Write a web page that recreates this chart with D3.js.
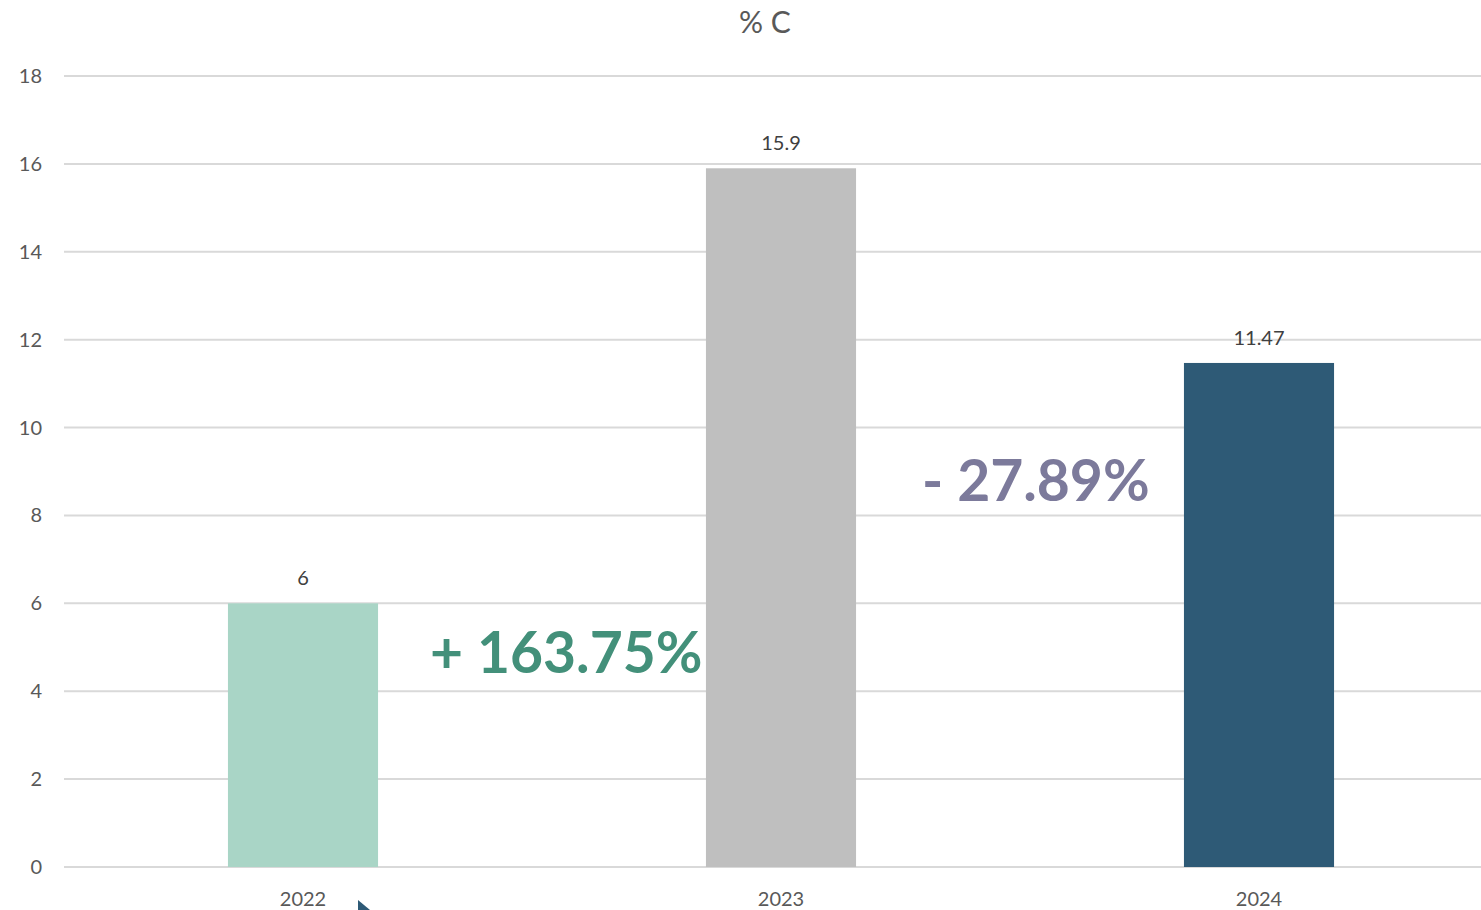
<!DOCTYPE html>
<html>
<head>
<meta charset="utf-8">
<script src="https://cdn.jsdelivr.net/npm/d3@7"></script>
<style>
  body { margin: 0; background: #fff; }
  svg { display: block; font-family: Lato, "Open Sans", sans-serif; }
</style>
</head>
<body>
<svg id="chart"></svg>
<script>
// data
var years = ["2022", "2023", "2024"];
var values = [6, 15.9, 11.47];
var barColors = ["#a9d5c6", "#bfbfbf", "#2e5a76"];
var yTicks = [0, 2, 4, 6, 8, 10, 12, 14, 16, 18];
var changeLabels = ["+ 163.75%", "- 27.89%"];
var changeColors = ["#43907a", "#7c7a9b"];

var W = 1481, H = 910;
var margin = {top: 76, right: -17, bottom: 43, left: 64};
var width = W - margin.left - margin.right,
    height = H - margin.top - margin.bottom;

var svg = d3.select("#chart").attr("width", W).attr("height", H);
var g = svg.append("g").attr("transform", "translate(" + margin.left + "," + margin.top + ")");

var x = d3.scaleBand().domain(years).range([0, width]).paddingInner(0.686).paddingOuter(0.343);
var y = d3.scaleLinear().domain([0, 18]).range([height, 0]);

// gridlines
g.selectAll(".grid").data(yTicks).enter().append("line")
  .attr("x1", 0).attr("x2", W)
  .attr("y1", function(d) { return y(d); })
  .attr("y2", function(d) { return y(d); })
  .attr("stroke", "#d9d9d9").attr("stroke-width", 2);

// y tick labels
g.selectAll(".ylab").data(yTicks).enter().append("text")
  .attr("x", -22).attr("y", function(d) { return y(d); })
  .attr("dy", "0.35em").attr("text-anchor", "end")
  .attr("fill", "#595959").style("font-size", "20px")
  .text(function(d) { return d; });

// bars
g.selectAll(".bar").data(values).enter().append("rect")
  .attr("x", function(d, i) { return x(years[i]); })
  .attr("width", x.bandwidth())
  .attr("y", function(d) { return y(d); })
  .attr("height", function(d) { return height - y(d); })
  .attr("fill", function(d, i) { return barColors[i]; });

// value labels
g.selectAll(".val").data(values).enter().append("text")
  .attr("x", function(d, i) { return x(years[i]) + x.bandwidth() / 2; })
  .attr("y", function(d) { return y(d) - 18; })
  .attr("text-anchor", "middle").attr("fill", "#404040")
  .style("font-size", "20px")
  .text(function(d) { return d; });

// x labels
g.selectAll(".xlab").data(years).enter().append("text")
  .attr("x", function(d) { return x(d) + x.bandwidth() / 2; })
  .attr("y", height + 39)
  .attr("text-anchor", "middle").attr("fill", "#595959")
  .style("font-size", "20px")
  .text(function(d) { return d; });

// title
svg.append("text").attr("x", 765).attr("y", 33)
  .attr("text-anchor", "middle").attr("fill", "#595959")
  .style("font-size", "30px").text("% C");

// change annotations, placed between bars
var changePos = [
  {x: x(years[0]) + x.bandwidth() + 52, y: y(4.42)},
  {x: x(years[1]) + x.bandwidth() + 66, y: y(8.33)}
];
g.selectAll(".chg").data(changeLabels).enter().append("text")
  .attr("x", function(d, i) { return changePos[i].x; })
  .attr("y", function(d, i) { return changePos[i].y; })
  .attr("fill", function(d, i) { return changeColors[i]; })
  .style("font-size", "57px").style("font-weight", "bold")
  .text(function(d) { return d; });

// arrow head peeking in at the bottom edge
svg.append("path")
  .attr("d", "M358,900 L370,910 L358,910 Z")
  .attr("fill", "#2e5a76");
</script>
</body>
</html>
